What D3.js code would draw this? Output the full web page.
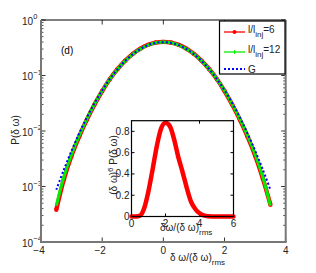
<!DOCTYPE html>
<html><head><meta charset="utf-8">
<script src="https://cdnjs.cloudflare.com/ajax/libs/d3/7.8.5/d3.min.js"></script>
<style>body{margin:0;background:#fff}svg{display:block;font-family:"Liberation Sans",Arial,sans-serif}</style>
</head><body><svg id="c" width="316" height="273"></svg>
<script>
// main panel data
const xs = [-3.5,-3.25,-3,-2.75,-2.5,-2.25,-2,-1.75,-1.5,-1.25,-1,-0.75,-0.5,-0.25,0,0.25,0.5,0.75,1,1.25,1.5,1.75,2,2.25,2.5,2.75,3,3.25,3.5];
const pL6 = [0.00038,0.00135,0.0036,0.0080,0.0160,0.0300,0.0525,0.0860,0.130,0.184,0.245,0.305,0.357,0.392,0.403,0.392,0.357,0.305,0.245,0.184,0.130,0.0860,0.0525,0.0300,0.0160,0.0080,0.0036,0.0014,0.00047];
const pL12 = [0.00045,0.0015,0.0038,0.0083,0.0165,0.0305,0.0530,0.0862,0.1295,0.183,0.243,0.302,0.354,0.388,0.400,0.388,0.354,0.302,0.243,0.183,0.1295,0.0862,0.0530,0.0305,0.0165,0.0083,0.0038,0.0015,0.00045];
const pG = [0.000873,0.00203,0.00443,0.00909,0.0175,0.0317,0.0540,0.0863,0.1295,0.1826,0.2420,0.3011,0.3521,0.3867,0.3989,0.3867,0.3521,0.3011,0.2420,0.1826,0.1295,0.0863,0.0540,0.0317,0.0175,0.00909,0.00443,0.00203,0.000873];
const xTicks = [-4,-2,0,2,4];
const yExps = [0,-1,-2,-3,-4];
// inset data
const ix = [0,0.25,0.5,0.75,1,1.25,1.5,1.75,2,2.25,2.5,2.75,3,3.25,3.5,3.75,4,4.25,4.5,5,5.5,6];
const iy = [0,0.0005,0.008,0.08,0.24,0.45,0.67,0.83,0.88,0.85,0.73,0.56,0.42,0.27,0.14,0.07,0.03,0.01,0.003,0,0,0];
const ixTicks = [0,2,4,6];
const iyTicks = [0,0.2,0.4,0.6,0.8];
const legendLabels = [{t:"l/l",s:"inj",e:"=6"},{t:"l/l",s:"inj",e:"=12"},{t:"G",s:"",e:""}];

const svg = d3.select("#c");
const x = d3.scaleLinear().domain([-4,4]).range([41,285.7]);
const y = d3.scaleLog().domain([1e-4,1]).range([242,20]);
const FS = 10;

const g = svg.append("g");
const minor = [];
for (let e=-4;e<0;e++) for (let m=2;m<10;m++) minor.push(m*Math.pow(10,e));
minor.forEach(v=>{
  g.append("line").attr("x1",x.range()[0]).attr("x2",x.range()[0]+2.5).attr("y1",y(v)).attr("y2",y(v)).attr("stroke","#555").attr("stroke-width",1);
  g.append("line").attr("x1",x.range()[1]).attr("x2",x.range()[1]-2.5).attr("y1",y(v)).attr("y2",y(v)).attr("stroke","#555").attr("stroke-width",1);
});
yExps.forEach(e=>{
  const v=Math.pow(10,e);
  g.append("line").attr("x1",x.range()[0]).attr("x2",x.range()[0]+4.5).attr("y1",y(v)).attr("y2",y(v)).attr("stroke","#333");
  g.append("line").attr("x1",x.range()[1]).attr("x2",x.range()[1]-4.5).attr("y1",y(v)).attr("y2",y(v)).attr("stroke","#333");
  const t=g.append("text").attr("x",33).attr("y",y(v)+4.5).attr("text-anchor","end").attr("font-size",FS).attr("fill","#222");
  t.append("tspan").text("10");
  g.append("text").attr("x",33.3).attr("y",y(v)-1).attr("font-size",7.5).attr("fill","#222").text(e===0?"0":"\u2212"+(-e));
});
xTicks.forEach(v=>{
  g.append("line").attr("x1",x(v)).attr("x2",x(v)).attr("y1",y.range()[0]).attr("y2",y.range()[0]-4.5).attr("stroke","#333");
  g.append("line").attr("x1",x(v)).attr("x2",x(v)).attr("y1",y.range()[1]).attr("y2",y.range()[1]+4.5).attr("stroke","#333");
  g.append("text").attr("x",x(v)+(v<0?-2:0)).attr("y",253.5).attr("text-anchor","middle").attr("font-size",FS).attr("fill","#222").text(v<0?"\u2212"+(-v):v);
});
g.append("line").attr("x1",41).attr("x2",285.7).attr("y1",20).attr("y2",20).attr("stroke","#000").attr("stroke-width",1.2);
g.append("line").attr("x1",41).attr("x2",41).attr("y1",20).attr("y2",242).attr("stroke","#777").attr("stroke-width",2);
g.append("line").attr("x1",285.7).attr("x2",285.7).attr("y1",20).attr("y2",242).attr("stroke","#777").attr("stroke-width",2);
g.append("line").attr("x1",40).attr("x2",286.7).attr("y1",242).attr("y2",242).attr("stroke","#777").attr("stroke-width",2);

// curves
const line = d3.line().x(d=>x(d[0])).y(d=>y(d[1])).curve(d3.curveCatmullRom);
const zip = arr => xs.map((v,i)=>[v,arr[i]]);
svg.append("path").attr("d",line(zip(pL6))).attr("fill","none").attr("stroke","#ff0000").attr("stroke-width",4.3);
svg.append("g").selectAll("circle").data(zip(pL6)).join("circle").attr("cx",d=>x(d[0])).attr("cy",d=>y(d[1])).attr("r",2.2).attr("fill","#ff0000");
svg.append("path").attr("d",line(zip(pL12))).attr("fill","none").attr("stroke","#00ee00").attr("stroke-width",3);
svg.append("path").attr("d",line(zip(pG))).attr("fill","none").attr("stroke","#0000ff").attr("stroke-width",2).attr("stroke-dasharray","2,2.2");

svg.append("text").attr("x",61).attr("y",54).attr("font-size",FS).text("(d)");

const yl = svg.append("text").attr("transform","translate(19,130) rotate(-90)").attr("text-anchor","middle").attr("font-size",FS).attr("fill","#222");
yl.text("P(\u03b4 \u03c9)");
const xl = svg.append("text").attr("x",170).attr("y",261).attr("font-size",FS).attr("fill","#222");
xl.append("tspan").text("\u03b4 \u03c9/(\u03b4 \u03c9)");
xl.append("tspan").attr("dy",4).attr("font-size",8).text("rms");

// legend
const lg = svg.append("g");
lg.append("rect").attr("x",219.5).attr("y",21).attr("width",65.5).attr("height",53).attr("fill","#fff").attr("stroke","#000").attr("stroke-width",1.2);
const ly=[32,52,69];
lg.append("line").attr("x1",224).attr("x2",245).attr("y1",ly[0]).attr("y2",ly[0]).attr("stroke","#ff0000").attr("stroke-width",1.3);
lg.append("circle").attr("cx",234.5).attr("cy",ly[0]).attr("r",2).attr("fill","#ff0000");
lg.append("line").attr("x1",224).attr("x2",245).attr("y1",ly[1]).attr("y2",ly[1]).attr("stroke","#00ee00").attr("stroke-width",1.3);
lg.append("line").attr("x1",234.5).attr("x2",234.5).attr("y1",ly[1]-1.8).attr("y2",ly[1]+1.8).attr("stroke","#00ee00").attr("stroke-width",1);
lg.append("line").attr("x1",224).attr("x2",245).attr("y1",ly[2]).attr("y2",ly[2]).attr("stroke","#0000ff").attr("stroke-width",2).attr("stroke-dasharray","2,2");
legendLabels.forEach((L,i)=>{
  const t=lg.append("text").attr("x",248).attr("y",ly[i]+(L.s?1:3.5)).attr("font-size",FS).attr("fill","#222");
  t.append("tspan").text(L.t);
  if(L.s){t.append("tspan").attr("dy",4).attr("font-size",8).text(L.s);
  t.append("tspan").attr("dy",-4).text(L.e);}
});

// inset
const ixs = d3.scaleLinear().domain([0,6]).range([131.5,233.5]);
const iys = d3.scaleLinear().domain([0,0.9]).range([216.5,120.7]);
const ig = svg.append("g");
ig.append("rect").attr("x",131.5).attr("y",120.7).attr("width",102).attr("height",95.8).attr("fill","#fff");
iyTicks.forEach(v=>{
  ig.append("line").attr("x1",131.5).attr("x2",134.5).attr("y1",iys(v)).attr("y2",iys(v)).attr("stroke","#000");
  ig.append("line").attr("x1",233.5).attr("x2",230.5).attr("y1",iys(v)).attr("y2",iys(v)).attr("stroke","#000");
  ig.append("text").attr("x",129.5).attr("y",iys(v)+3.5).attr("text-anchor","end").attr("font-size",FS).attr("fill","#222").text(v===0?"0":d3.format(".1f")(v));
});
ixTicks.forEach(v=>{
  ig.append("line").attr("x1",ixs(v)).attr("x2",ixs(v)).attr("y1",216.5).attr("y2",213.5).attr("stroke","#000");
  ig.append("line").attr("x1",ixs(v)).attr("x2",ixs(v)).attr("y1",120.7).attr("y2",123.7).attr("stroke","#000");
  ig.append("text").attr("x",ixs(v)).attr("y",227).attr("text-anchor","middle").attr("font-size",FS).attr("fill","#222").text(v);
});
const iline = d3.line().x(d=>ixs(d[0])).y(d=>iys(d[1])).curve(d3.curveMonotoneX);
ig.append("path").attr("d",iline(ix.map((v,i)=>[v,iy[i]]))).attr("fill","none").attr("stroke","#ff0000").attr("stroke-width",4.5).attr("stroke-linejoin","round").attr("stroke-linecap","round");
ig.append("rect").attr("x",131.5).attr("y",120.7).attr("width",102).attr("height",95.8).attr("fill","none").attr("stroke","#000").attr("stroke-width",1.2);
const ixl = ig.append("text").attr("x",160).attr("y",231).attr("font-size",FS).attr("fill","#222");
ixl.append("tspan").text("\u03b4\u03c9/(\u03b4 \u03c9)");
ixl.append("tspan").attr("dy",4).attr("font-size",8).text("rms");
const iyl = ig.append("text").attr("transform","translate(117,165) rotate(-90)").attr("text-anchor","middle").attr("font-size",FS).attr("fill","#222");
iyl.append("tspan").text("(\u03b4 \u03c9)");
iyl.append("tspan").attr("dy",-4).attr("font-size",8).text("6");
iyl.append("tspan").attr("dy",4).text(" P(\u03b4 \u03c9)");
</script></body></html>
